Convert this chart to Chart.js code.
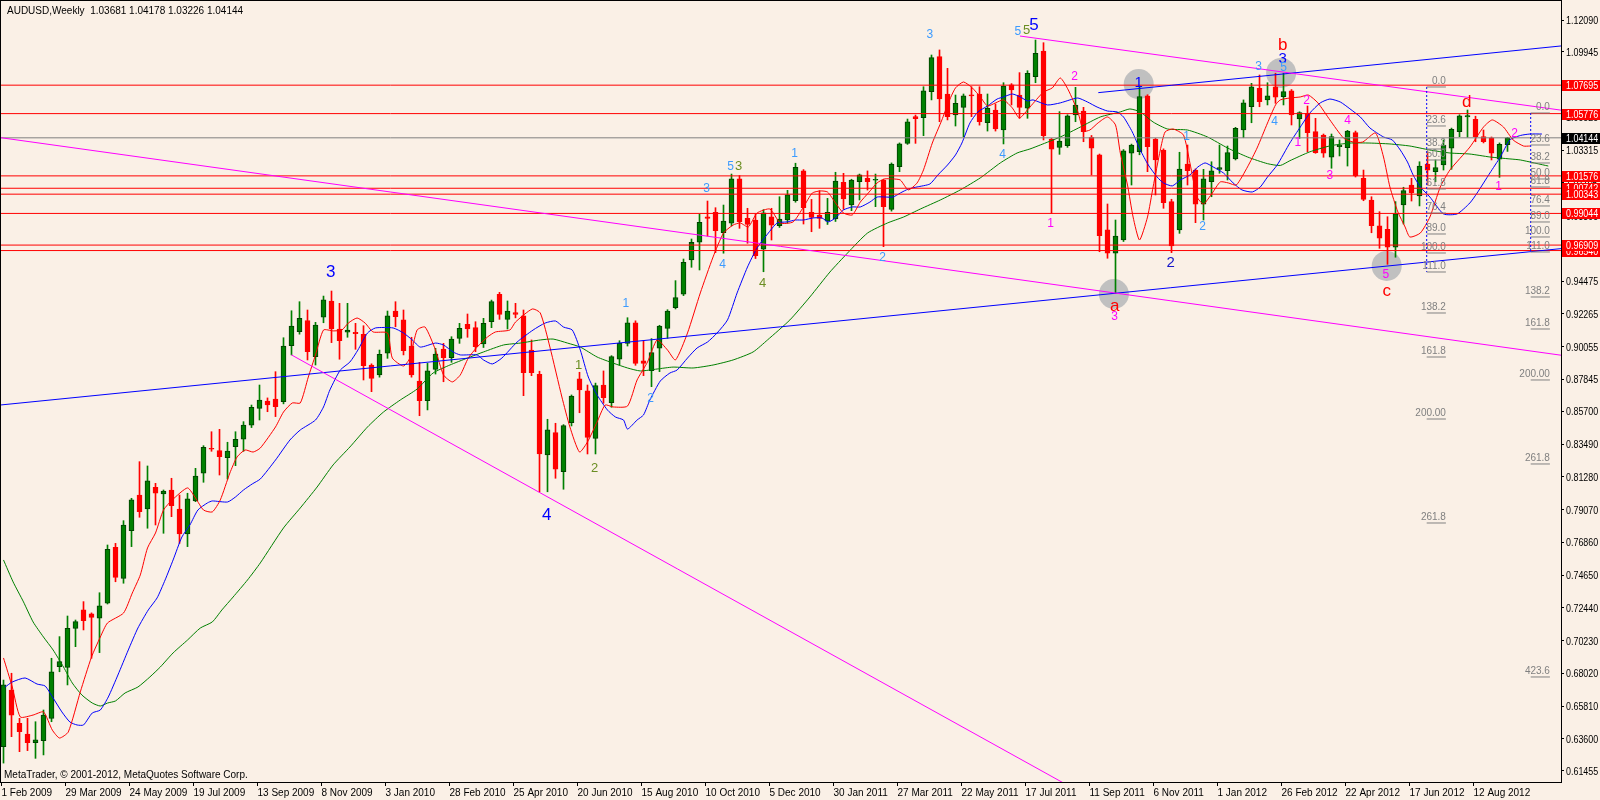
<!DOCTYPE html>
<html>
<head>
<meta charset="utf-8">
<title>AUDUSD,Weekly</title>
<script src="https://cdn.jsdelivr.net/npm/chart.js@4.4.1/dist/chart.umd.min.js"></script>
<style>
  html, body { margin: 0; padding: 0; background: #FAF0E6; }
  canvas { display: block; }
</style>
</head>
<body>
<canvas id="chart" width="1600" height="800"></canvas>
<script>
// AUDUSD weekly, MetaTrader style chart

// Date labels, one every 8 weekly bars starting at bar 0
const dateLabels = ['1 Feb 2009', '29 Mar 2009', '24 May 2009', '19 Jul 2009', '13 Sep 2009', '8 Nov 2009',
  '3 Jan 2010', '28 Feb 2010', '25 Apr 2010', '20 Jun 2010', '15 Aug 2010', '10 Oct 2010', '5 Dec 2010',
  '30 Jan 2011', '27 Mar 2011', '22 May 2011', '17 Jul 2011', '11 Sep 2011', '6 Nov 2011', '1 Jan 2012',
  '26 Feb 2012', '22 Apr 2012', '17 Jun 2012', '12 Aug 2012'];

const priceTicks = [1.12090, 1.09945, 1.07735, 1.05525, 1.03315, 1.01105, 0.98895, 0.96685, 0.94475, 0.92265,
  0.90055, 0.87845, 0.85700, 0.83490, 0.81280, 0.79070, 0.76860, 0.74650, 0.72440, 0.70230, 0.68020,
  0.65810, 0.63600, 0.61455];

// OHLC per weekly bar
const opens = [
  .6307, .6690, .6465, .6393, .6335, .6348, .6499, .6847, .6843, .7106, .7230, .7203, .7174, .7275, .7652, .7443,
  .7765, .8005, .7911, .8057, .8012, .8039, .7911, .7742, .7965, .8152, .8320, .8304, .8257, .8331, .8381, .8477,
  .8590, .8639, .8653, .8635, .9012, .9107, .9181, .8938, .9204, .9314, .9125, .9103, .9103, .9089, .8882, .8815,
  .8961, .9246, .9186, .9010, .8774, .8641, .8853, .8990, .8931, .9062, .9156, .9134, .9024, .9174, .9359, .9190,
  .9235, .9213, .8983, .8819, .8275, .8426, .8163, .8493, .8788, .8707, .8387, .8747, .8628, .8922, .9028, .9167,
  .8911, .8844, .8995, .9129, .9268, .9359, .9590, .9710, .9882, .9912, .9774, .9838, 1.0137, .9871, .9860, .9663,
  .9882, .9822, .9860, .9990, 1.0191, .9912, .9894, .9853, .9867, 1.0114, .9961, 1.0118, 1.0141, 1.0128, 1.0130, .9932,
  1.0220, 1.0377, 1.0557, 1.0550, 1.0726, 1.0962, 1.0710, 1.0568, 1.0620, 1.0700, 1.0710, 1.0516, 1.0602, 1.0467, 1.0771, 1.0703,
  1.0614, 1.0827, 1.1000, 1.0406, 1.0350, 1.0361, 1.0568, 1.0595, 1.0418, 1.0299, .9793, .9636, .9725, 1.0310, 1.0321, 1.0697,
  1.0406, 1.0332, .9984, .9793, 1.0238, 1.0197, .9966, 1.0118, 1.0202, 1.0193, 1.0272, 1.0467, 1.0624, 1.0748, 1.0670, 1.0759,
  1.0692, 1.0732, 1.0541, 1.0580, 1.0456, 1.0433, 1.0283, 1.0355, 1.0348, 1.0449, 1.0141, .9995, .9820, .9797, .9676, .9961,
  1.0096, 1.0022, 1.0238, 1.0186, 1.0231, 1.0344, 1.0456, 1.0555, 1.0539, 1.0422, 1.0415, 1.0270, 1.03681];
const highs = [
  .6757, .6803, .6499, .6499, .6476, .6555, .6904, .7050, .7189, .7162, .7286, .7210, .7346, .7668, .7679, .7832,
  .7983, .8230, .8201, .8084, .8039, .8118, .8005, .8017, .8185, .8338, .8432, .8448, .8361, .8432, .8500, .8612,
  .8747, .8660, .8837, .9066, .9248, .9309, .9253, .9170, .9347, .9381, .9298, .9298, .9163, .9147, .8890, .8983,
  .9246, .9309, .9253, .9069, .8900, .8893, .8995, .9028, .9073, .9163, .9226, .9174, .9197, .9320, .9372, .9314,
  .9298, .9253, .9051, .8840, .8516, .8489, .8480, .8680, .8833, .8747, .8760, .8842, .8945, .9046, .9201, .9180,
  .9046, .9060, .9150, .9255, .9451, .9597, .9732, .9899, .9988, .9943, .9961, 1.0170, 1.0160, .9939, .9900, .9930,
  .9939, 1.0017, 1.0060, 1.0243, 1.0200, .9999, 1.0058, 1.0006, 1.0182, 1.0175, 1.0135, 1.0170, 1.0191, 1.0170, 1.0135, 1.0245,
  1.0380, 1.0541, 1.0568, 1.0759, 1.0973, 1.1007, 1.0883, 1.0703, 1.0710, 1.0759, 1.0759, 1.0710, 1.0643, 1.0786, 1.0780, 1.0854,
  1.0867, 1.1074, 1.1056, 1.0410, 1.0591, 1.0570, 1.0755, 1.0620, 1.0430, 1.0305, .9968, .9860, 1.0335, 1.0372, 1.0764, 1.0705,
  1.0410, 1.0340, 1.0000, 1.0317, 1.0366, 1.0205, 1.0202, 1.0253, 1.0366, 1.0359, 1.0485, 1.0670, 1.0782, 1.0838, 1.0786, 1.0850,
  1.0850, 1.0740, 1.0590, 1.0629, 1.0546, 1.0440, 1.0440, 1.0400, 1.0465, 1.0460, 1.0197, 1.0017, .9916, .9882, .9984, 1.0081,
  1.0141, 1.0253, 1.0321, 1.0265, 1.0400, 1.0480, 1.0570, 1.0602, 1.0560, 1.0467, 1.0420, 1.0380, 1.04178];
const lows = [
  .6197, .6375, .6274, .6281, .6229, .6252, .6476, .6813, .6724, .6982, .7095, .6904, .6942, .7270, .7420, .7410,
  .7657, .7855, .7781, .7803, .7747, .7859, .7679, .7657, .7960, .8091, .8300, .8140, .8113, .8203, .8300, .8460,
  .8511, .8567, .8534, .8620, .8950, .9090, .8916, .8882, .9167, .9033, .8921, .9069, .8988, .8781, .8702, .8800,
  .8927, .9140, .8950, .8800, .8540, .8579, .8821, .8769, .8900, .9028, .9069, .8972, .9000, .9134, .9190, .9125,
  .9200, .8675, .8810, .8027, .8027, .8118, .8044, .8471, .8560, .8282, .8282, .8624, .8597, .8882, .9010, .8880,
  .8810, .8736, .8837, .9062, .9260, .9350, .9541, .9523, .9752, .9640, .9636, .9820, .9804, .9703, .9600, .9511,
  .9725, .9810, .9840, .9980, .9833, .9781, .9804, .9830, .9850, .9932, .9923, .9995, 1.0062, .9950, .9680, .9920,
  1.0186, 1.0370, 1.0377, 1.0429, 1.0670, 1.0523, 1.0535, 1.0494, 1.0422, 1.0557, 1.0500, 1.0460, 1.0460, 1.0373, 1.0636, 1.0546,
  1.0546, 1.0786, 1.0400, .9905, 1.0303, 1.0350, 1.0523, 1.0388, 1.0164, .9646, .9602, .9366, .9715, 1.0096, 1.0300, 1.0186,
  1.0029, .9939, .9640, .9770, 1.0096, .9842, .9860, 1.0017, 1.0175, 1.0130, 1.0265, 1.0415, 1.0516, 1.0624, 1.0636, 1.0647,
  1.0636, 1.0501, 1.0411, 1.0321, 1.0310, 1.0283, 1.0209, 1.0292, 1.0224, 1.0150, .9990, .9774, .9669, .9561, .9609, .9833,
  .9988, .9955, 1.0096, 1.0118, 1.0197, 1.0202, 1.0422, 1.0418, 1.0388, 1.0380, 1.0265, 1.0148, 1.03226];
const closes = [
  .6724, .6521, .6409, .6335, .6353, .6521, .6813, .6881, .7106, .7151, .7157, .7180, .7257, .7639, .7450, .7803,
  .7972, .7893, .8100, .8017, .8032, .7933, .7742, .7979, .8133, .8327, .8314, .8264, .8302, .8381, .8477, .8597,
  .8646, .8612, .8601, .9010, .9145, .9197, .8972, .9152, .9321, .9125, .9046, .9118, .9094, .8877, .8792, .8954,
  .9213, .9208, .8979, .8815, .8641, .8842, .8956, .8931, .9057, .9129, .9125, .9005, .9163, .9309, .9224, .9246,
  .9224, .8830, .8830, .8282, .8444, .8179, .8473, .8673, .8714, .8394, .8743, .8662, .8938, .9028, .9167, .8893,
  .8893, .8965, .9145, .9246, .9336, .9575, .9710, .9845, .9871, .9788, .9853, 1.0137, .9849, .9831, .9619, .9909,
  .9826, .9867, 1.0029, 1.0216, .9943, .9878, .9871, .9912, 1.0123, 1.0002, 1.0130, 1.0164, 1.0118, 1.0132, .9950, 1.0238,
  1.0373, 1.0523, 1.0543, 1.0732, 1.0955, 1.0676, 1.0557, 1.0647, 1.0697, 1.0697, 1.0523, 1.0614, 1.0474, 1.0764, 1.0737, 1.0620,
  1.0850, 1.0985, 1.0429, 1.0337, 1.0393, 1.0562, 1.0636, 1.0456, 1.0344, .9754, .9636, .9752, 1.0326, 1.0366, 1.0692, 1.0355,
  1.0265, .9977, .9685, 1.0204, 1.0193, .9966, 1.0137, 1.0191, 1.0213, 1.0314, 1.0479, 1.0651, 1.0759, 1.0658, 1.0697, 1.0688,
  1.0726, 1.0568, 1.0584, 1.0449, 1.0314, 1.0310, 1.0422, 1.0364, 1.0460, 1.0157, .9999, .9822, .9737, .9676, .9901, 1.0058,
  1.0044, 1.0224, 1.0197, 1.0213, 1.0366, 1.0472, 1.0562, 1.0564, 1.0422, 1.0388, 1.0310, 1.0371, 1.04144];

// Moving averages as [bar, price] points
const redMa = [[0, .6906], [1.1, .6710], [2.1, .6508], [3.7, .6521], [5, .6542], [6.1, .6420], [7, .6366], [8.1, .6407],
  [9.6, .6677], [11, .6912], [12.1, .7047], [13, .7142], [15, .7209], [16.1, .7344], [17.1, .7466], [18, .7648],
  [19, .7749], [20, .7904], [21.1, .7972], [23, .8053], [24, .7985], [25, .7904], [26.1, .7891], [27.1, .7972],
  [28.3, .8154], [29.2, .8262], [30.2, .8309], [31.2, .8295], [32.1, .8322], [34, .8464], [35, .8565], [36.1, .8626],
  [37.1, .8626], [38.1, .8801], [39, .8950], [40, .9118], [41.2, .9112], [42.3, .9118], [43.1, .9165], [44.2, .9199],
  [45.2, .9165], [46.2, .9105], [48, .9098], [48.6, .8929], [50, .8875], [50.8, .8929], [51.7, .9118], [52.7, .9138],
  [54, .8983], [55, .8815], [56.1, .8768], [57.1, .8815], [58.1, .8929], [59.2, .9003], [60.5, .9071], [61.5, .9105],
  [63.3, .9118], [64, .9172], [66.1, .9260], [67.1, .9233], [68.3, .9003], [69.8, .8666], [70.8, .8464], [72, .8295],
  [73, .8363], [74.2, .8498], [75.2, .8612], [76.2, .8599], [78, .8605], [79.2, .8781], [80.5, .8902], [81.7, .9051],
  [83, .8983], [84, .8916], [85.5, .9098], [87.1, .9368], [88.7, .9611], [90, .9772], [91.2, .9826], [92.1, .9840],
  [93.1, .9813], [94.2, .9907], [95.8, .9934], [97.1, .9840], [98.7, .9847], [100, .9948], [101.1, 1.0042], [102.1, 1.0056],
  [103, 1.0049], [104, .9975], [105, .9907], [106.1, .9894], [107.1, .9981], [108.1, 1.0042], [109.2, 1.0110], [110.1, 1.0137],
  [111.2, 1.0137], [112.1, 1.0130], [113.1, 1.0063], [114.2, 1.0110], [115, 1.0198], [116.1, 1.0379], [117.3, 1.0535],
  [118.1, 1.0650], [119, 1.0751], [120, 1.0791], [121.1, 1.0751], [122.1, 1.0690], [123, 1.0629], [124, 1.0650],
  [125, 1.0670], [126.1, 1.0616], [127, 1.0548], [128.3, 1.0622], [130, 1.0723], [131.1, 1.0751], [132.1, 1.0818],
  [133.1, 1.0737], [134.3, 1.0589], [135, 1.0460], [135.8, 1.0467], [136.8, 1.0514], [138, 1.0555], [139, 1.0501],
  [139.6, 1.0312], [140.5, 1.0096], [141.2, .9880], [142, .9725], [143, .9880], [143.7, 1.0083], [144.6, 1.0332],
  [145.2, 1.0454], [146.2, 1.0474], [147.5, 1.0433], [148.3, 1.0245], [149.2, 1.0015], [150, .9968], [151.1, 1.0042],
  [152.1, 1.0117], [153.1, 1.0110], [154.1, 1.0096], [155.5, 1.0218], [156.7, 1.0346], [158, 1.0514], [159, 1.0636],
  [159.6, 1.0670], [160.8, 1.0683], [162.1, 1.0690], [163.1, 1.0703], [164.3, 1.0650], [165.8, 1.0535], [167.5, 1.0413],
  [168.7, 1.0386], [169.9, 1.0386], [171.5, 1.0447], [172.5, 1.0285], [173.3, 1.0083], [174.3, .9914], [175.2, .9813],
  [175.8, .9745], [177.1, .9772], [178.3, .9880], [179.6, 1.0083], [180.8, 1.0197], [183.3, 1.0352], [185, 1.0487],
  [186.1, 1.0535], [187.5, 1.0487], [188.7, 1.0400], [190, 1.0359], [190.8, 1.0359]];
const blueMa = [[0.2, .6710], [1.1, .6744], [2.7, .6771], [4.2, .6730], [5.2, .6717], [6.2, .6636], [7.3, .6542],
  [8.3, .6474], [9.2, .6454], [10, .6454], [11.1, .6535], [12.1, .6555], [13.1, .6643], [14.3, .6791], [15.6, .6960],
  [16.8, .7108], [18.1, .7230], [19.2, .7311], [20.2, .7432], [21.2, .7567], [22.3, .7722], [23.3, .7803], [24.3, .7904],
  [25.5, .7952], [26.1, .7965], [28, .7958], [29, .7992], [30, .8039], [31.1, .8080], [32.1, .8113], [34, .8241],
  [35.8, .8376], [37.1, .8444], [39, .8511], [40, .8599], [40.8, .8714], [42.1, .8848], [43.3, .8902], [44.3, .8983],
  [45.5, .9098], [46.5, .9132], [48.7, .9132], [50, .9098], [51.1, .9051], [52.1, .9003], [54, .9030], [55, .9017],
  [56.2, .8970], [57.1, .8950], [59.2, .8950], [60, .8916], [61.1, .8889], [62.3, .8929], [64.2, .9037], [66.2, .9118],
  [67.7, .9165], [69, .9179], [70, .9138], [71.1, .9118], [72.1, .8983], [73.1, .8801], [74.2, .8680], [75.5, .8578],
  [76.5, .8531], [77.5, .8511], [78, .8450], [79.2, .8511], [80, .8545], [80.8, .8646], [82.1, .8774], [83.3, .8828],
  [84.2, .8848], [85.5, .8929], [86.7, .8997], [88, .9037], [89.2, .9098], [90.5, .9186], [91.7, .9368], [93, .9543],
  [94.2, .9672], [95.5, .9765], [96.7, .9840], [97.9, .9847], [99, .9860], [100, .9860], [101.2, .9874], [102.3, .9874],
  [103.1, .9847], [104, .9874], [105, .9928], [106.1, .9948], [107.1, .9948], [108.3, .9981], [109.2, 1.0015],
  [110.2, 1.0015], [111.2, 1.0015], [112.1, 1.0042], [113.1, 1.0069], [114.2, 1.0083], [115.8, 1.0103], [116.8, 1.0164],
  [118, 1.0231], [119, 1.0299], [119.8, 1.0379], [120.8, 1.0514], [121.8, 1.0589], [123, 1.0629], [124.2, 1.0676],
  [125, 1.0690], [126.1, 1.0710], [127.1, 1.0690], [128, 1.0663], [128.7, 1.0670], [130.5, 1.0636], [132.1, 1.0650],
  [133.3, 1.0670], [134.3, 1.0683], [135.5, 1.0656], [136.7, 1.0622], [138, 1.0595], [139.2, 1.0589], [140, 1.0555],
  [141.1, 1.0454], [142.1, 1.0332], [143.1, 1.0231], [144.2, 1.0150], [145, 1.0110], [146.1, 1.0090], [147.1, 1.0130],
  [148.3, 1.0164], [149.3, 1.0218], [150.2, 1.0245], [151.2, 1.0218], [152.5, 1.0177], [153.7, 1.0110], [154.8, 1.0063],
  [156.1, 1.0049], [157.1, 1.0083], [158, 1.0150], [159.2, 1.0230], [160.8, 1.0380], [162.1, 1.0487], [163.3, 1.0582],
  [164.6, 1.0650], [165.8, 1.0676], [167.1, 1.0656], [168.3, 1.0610], [169.6, 1.0555], [170.8, 1.0481], [172.5, 1.0420],
  [173.6, 1.0400], [174.6, 1.0332], [175.5, 1.0251], [176.2, 1.0164], [177.1, 1.0083], [178.3, 1.0015], [180, .9901],
  [181.7, .9901], [183.3, .9975], [184.2, 1.0042], [185.8, 1.0177], [187.1, 1.0285], [188.3, 1.0400], [189.6, 1.0430],
  [190.8, 1.0440], [192.3, 1.0440]];
const greenMa = [[0, .7567], [1.2, .7419], [2.5, .7284], [3.7, .7149], [5, .7047], [6.2, .6960], [7.5, .6845],
  [8.6, .6737], [9.8, .6656], [11.1, .6602], [12.1, .6582], [13, .6602], [14, .6616], [15.2, .6670], [16.8, .6710],
  [18.3, .6778], [19.6, .6845], [21.2, .6940], [23, .7027], [24.6, .7108], [26.1, .7149], [27.3, .7230], [28.7, .7317],
  [30.5, .7432], [32.1, .7547], [35, .7783], [37.1, .7918], [39.2, .8059], [41.2, .8208], [43.3, .8329], [45.5, .8464],
  [47.5, .8565], [49.6, .8646], [51.7, .8720], [53.7, .8828], [55.8, .8882], [58, .8929], [60, .8970], [62.5, .9017],
  [64.6, .9030], [67.1, .9051], [68.7, .9057], [70.5, .9030], [72.1, .9003], [74.2, .8936], [76.2, .8895], [78, .8862],
  [79.6, .8842], [81.7, .8855], [83.7, .8868], [86.2, .8862], [88.7, .8882], [91.2, .8916], [93.7, .8970], [95.5, .9051],
  [98.3, .9186], [100.8, .9341], [103.3, .9509], [105.5, .9637], [108, .9772], [110.5, .9840], [112.5, .9880],
  [114.6, .9934], [117.1, .9995], [119.6, 1.0063], [122.1, 1.0144], [124.6, 1.0245], [126.7, 1.0312], [128.3, 1.0339],
  [129.6, 1.0366], [132.1, 1.0420], [134.6, 1.0487], [137.1, 1.0555], [139.6, 1.0589], [140.8, 1.0609], [142.1, 1.0589],
  [143.7, 1.0521], [145.5, 1.0474], [148, 1.0467], [150.5, 1.0420], [153, 1.0346], [155.5, 1.0285], [158, 1.0240],
  [159.6, 1.0228], [160.8, 1.0260], [163.3, 1.0320], [165.8, 1.0360], [168.3, 1.0379], [170.8, 1.0379], [173.3, 1.0373],
  [175.8, 1.0359], [178.3, 1.0332], [180.8, 1.0312], [183.3, 1.0305], [185.8, 1.0285], [188.3, 1.0272], [189.6, 1.0265],
  [193.1, 1.0224]];

// Horizontal price lines and their axis boxes (drawn in this order)
const redLevels = [1.07695, 1.05776, 1.01576, 1.00742, 1.00343, 0.99044, 0.96540, 0.96909];
const lastPrice = 1.04144;

// Trend lines as [bar, price] end points
const magentaLong = [[-0.44, 1.0416], [194.7, 0.8948]];
const magentaSteep = [[36.0, 0.8950], [135, 0.5988]];
const magentaTop = [[127.06, 1.1101], [194.7, 1.0601]];
const blueLong = [[-0.44, 0.8612], [194.7, 0.9667]];
const blueUpper = [[136.85, 1.0719], [194.7, 1.1034]];

// Grey marker circles [bar, price]
const circles = [[141.9, 1.0777], [159.7, 1.0852], [138.8, 0.9361], [172.9, 0.9550]];

// Fibonacci captions, two sets
const fibLevels = ['0.0', '23.6', '38.2', '50.0', '61.8', '76.4', '89.0', '100.0', '111.0', '138.2', '161.8', '200.00', '261.8', '423.6'];
const fibAPrices = [1.07572, 1.04942, 1.03390, 1.02648, 1.00692, 0.99073, 0.97657, 0.96375, 0.95094, 0.92328, 0.89360, 0.85178, 0.78164];
const fibBPrices = [1.05818, 1.03660, 1.02446, 1.01367, 1.00827, 0.99546, 0.98467, 0.97455, 0.96443, 0.93408, 0.91249, 0.87810, 0.82144, 0.67778];
const fibASpan = [177.9, 180.3];
const fibBSpan = [190.9, 193.3];

// Wave labels: [text, bar, price, colour, font px]
const BL = '#0000FF', LB = '#3C9BFF', OL = '#6B8E23', MG = '#FF00FF', RD = '#FF0000', DB = '#1414C8';
const waveLabels = [
  ['3', 40.9, 0.9509, BL, 17], ['4', 67.9, 0.7870, BL, 17],
  ['5', 126.8, 1.1128, LB, 12], ['5', 127.9, 1.1142, OL, 13], ['5', 128.8, 1.1175, BL, 17],
  ['3', 115.8, 1.1108, LB, 12], ['2', 133.9, 1.0825, MG, 12], ['1', 130.9, 0.9833, MG, 12],
  ['4', 124.9, 1.0299, LB, 12], ['1', 141.9, 1.0784, BL, 15],
  ['b', 159.9, 1.1040, RD, 17], ['3', 159.9, 1.0946, BL, 15], ['5', 160.0, 1.0889, LB, 12],
  ['3', 156.9, 1.0892, LB, 12], ['4', 158.9, 1.0521, LB, 12],
  ['2', 162.9, 1.0663, MG, 12], ['1', 161.8, 1.0380, MG, 12], ['3', 165.8, 1.0157, MG, 12], ['4', 168.0, 1.0528, MG, 12],
  ['1', 147.9, 1.0422, LB, 12], ['2', 149.9, 0.9815, LB, 12], ['2', 145.9, 0.9568, DB, 15],
  ['a', 138.9, 0.9280, RD, 17], ['3', 138.9, 0.9210, MG, 12],
  ['c', 172.9, 0.9377, RD, 17], ['5', 172.8, 0.9489, MG, 12],
  ['d', 182.9, 1.0656, RD, 17], ['2', 188.9, 1.0445, MG, 12], ['1', 186.9, 1.0085, MG, 12],
  ['5', 90.9, 1.0220, LB, 12], ['3', 91.9, 1.0220, OL, 13], ['3', 87.9, 1.0074, LB, 12], ['1', 98.9, 1.0310, LB, 12],
  ['4', 89.9, 0.9557, LB, 12], ['4', 94.9, 0.9435, OL, 13], ['2', 109.9, 0.9606, LB, 12],
  ['1', 77.8, 0.9293, LB, 12], ['1', 71.9, 0.8882, OL, 13], ['2', 73.9, 0.8185, OL, 13], ['2', 80.9, 0.8657, LB, 12]
];

const BG = '#FAF0E6';
const UP = '#008000';
const UP_EDGE = '#004000';
const DOWN = '#FF0000';
const FONT = '"Liberation Sans", Arial, sans-serif';

// Build datasets
const isUp = opens.map((o, i) => closes[i] >= o);
const wickData = opens.map((o, i) => ({ x: i, y: [lows[i], highs[i]] }));
const bodyData = opens.map((o, i) => ({ x: i, y: [o, closes[i]] }));
const pts = arr => arr.map(([x, y]) => ({ x, y }));

function lineSet(points, color, order, extra) {
    return Object.assign({
        type: 'line',
        data: pts(points),
        borderColor: color,
        borderWidth: 1,
        pointRadius: 0,
        fill: false,
        tension: 0,
        order: order
    }, extra || {});
}

const datasets = [];

datasets.push({
    type: 'line', data: pts(circles), showLine: false, pointRadius: 15,
    pointBackgroundColor: '#C0C0C0', pointBorderWidth: 0, order: 30
});
datasets.push({
    type: 'bar', data: wickData, barThickness: 1, grouped: false, borderWidth: 0,
    backgroundColor: isUp.map(u => u ? UP : DOWN), order: 20
});
datasets.push({
    type: 'bar', data: bodyData, barThickness: 5, grouped: false, minBarLength: 1,
    borderWidth: 1, borderSkipped: false,
    backgroundColor: isUp.map(u => u ? UP : DOWN),
    borderColor: isUp.map(u => u ? UP_EDGE : DOWN), order: 19
});

datasets.push(lineSet(greenMa, '#008000', 12, { tension: 0.2 }));
datasets.push(lineSet(blueMa, '#0000FF', 11, { tension: 0.2 }));
datasets.push(lineSet(redMa, '#FF0000', 10, { tension: 0.2 }));

redLevels.forEach(p => datasets.push(lineSet([[-1, p], [196, p]], '#FF0000', 8)));
datasets.push(lineSet([[-1, lastPrice], [196, lastPrice]], '#808080', 9));

datasets.push(lineSet(magentaLong, '#FF00FF', 7));
datasets.push(lineSet(magentaSteep, '#FF00FF', 7));
datasets.push(lineSet(magentaTop, '#FF00FF', 7));
datasets.push(lineSet(blueLong, '#0000FF', 7));
datasets.push(lineSet(blueUpper, '#0000FF', 7));

// Fibonacci: dotted verticals and short level lines
datasets.push(lineSet([[fibASpan[0], fibAPrices[0]], [fibASpan[0], fibAPrices[8]]], '#0000FF', 6, { borderDash: [2, 2] }));
datasets.push(lineSet([[fibBSpan[0], fibBPrices[0]], [fibBSpan[0], fibBPrices[8]]], '#0000FF', 6, { borderDash: [2, 2] }));
fibAPrices.forEach(p => datasets.push(lineSet([[fibASpan[0], p], [fibASpan[1], p]], '#808080', 5)));
fibBPrices.forEach(p => datasets.push(lineSet([[fibBSpan[0], p], [fibBSpan[1], p]], '#808080', 5)));

// Narrow price text, like the Tahoma labels of the terminal
function priceText(ctx, text, x, y, color) {
    ctx.save();
    ctx.translate(x, y);
    ctx.scale(0.81, 1);
    ctx.fillStyle = color;
    ctx.fillText(text, 0, 0);
    ctx.restore();
}

// Texts, price boxes and frame
const mt4Overlay = {
    id: 'mt4Overlay',
    beforeDraw(chart) {
        const ctx = chart.ctx;
        ctx.save();
        ctx.fillStyle = BG;
        ctx.fillRect(0, 0, chart.width, chart.height);
        ctx.restore();
    },
    afterDatasetsDraw(chart) {
        const { ctx, scales: { x, y } } = chart;
        ctx.save();
        ctx.font = '10px ' + FONT;
        ctx.fillStyle = '#808080';
        ctx.textAlign = 'right';
        ctx.textBaseline = 'bottom';
        fibAPrices.forEach((p, k) => ctx.fillText(fibLevels[k], x.getPixelForValue(fibASpan[1]), y.getPixelForValue(p) - 1));
        fibBPrices.forEach((p, k) => ctx.fillText(fibLevels[k], x.getPixelForValue(fibBSpan[1]), y.getPixelForValue(p) - 1));

        ctx.textAlign = 'center';
        ctx.textBaseline = 'middle';
        waveLabels.forEach(([t, i, p, c, s]) => {
            ctx.font = s + 'px ' + FONT;
            ctx.fillStyle = c;
            ctx.fillText(t, x.getPixelForValue(i), y.getPixelForValue(p));
        });
        ctx.restore();
    },
    afterDraw(chart) {
        const { ctx, chartArea: a, scales: { y } } = chart;
        ctx.save();
        ctx.strokeStyle = '#000000';
        ctx.lineWidth = 1;
        ctx.strokeRect(a.left - 0.5, a.top - 0.5, a.right - a.left + 1, a.bottom - a.top + 1);

        ctx.font = '11px ' + FONT;
        ctx.textAlign = 'left';
        ctx.textBaseline = 'middle';
        // price scale labels
        priceTicks.forEach(p => priceText(ctx, p.toFixed(5), a.right + 5, Math.round(y.getPixelForValue(p)) + 0.5, '#000000'));

        const box = (p, bg) => {
            const py = Math.round(y.getPixelForValue(p));
            ctx.fillStyle = bg;
            ctx.fillRect(a.right + 1, py - 5, chart.width - a.right - 1, 11);
            priceText(ctx, p.toFixed(5), a.right + 5, py + 0.5, '#FFFFFF');
        };
        redLevels.forEach(p => box(p, '#FF0000'));
        box(lastPrice, '#000000');

        ctx.fillStyle = '#000000';
        ctx.font = '10px ' + FONT;
        ctx.fillText('AUDUSD,Weekly  1.03681 1.04178 1.03226 1.04144', 7, 11);
        ctx.fillText('MetaTrader, \u00A9 2001-2012, MetaQuotes Software Corp.', 4, 775);
        ctx.restore();
    }
};

new Chart(document.getElementById('chart'), {
    type: 'bar',
    data: { datasets: datasets },
    options: {
        responsive: false,
        animation: false,
        events: [],
        layout: { autoPadding: false, padding: { left: 1, top: 1, right: 0, bottom: 0 } },
        plugins: { legend: { display: false }, tooltip: { enabled: false } },
        scales: {
            x: {
                type: 'linear',
                min: -0.3125,
                max: 194.6875,
                offset: false,
                border: { display: false },
                grid: { drawOnChartArea: false, drawTicks: true, tickLength: 4, color: '#000000', offset: false },
                afterBuildTicks: s => { s.ticks = dateLabels.map((d, k) => ({ value: k * 8 - 0.25 })); },
                afterFit: s => { s.height = 18; },
                ticks: {
                    autoSkip: false, maxRotation: 0, minRotation: 0, align: 'start', padding: 1,
                    color: '#000000', font: { family: FONT, size: 10 },
                    callback: (v, k) => dateLabels[k]
                }
            },
            y: {
                type: 'linear',
                position: 'right',
                min: 0.60694,
                max: 1.13372,
                border: { display: false },
                grid: { drawOnChartArea: false, drawTicks: true, tickLength: 3, color: '#000000' },
                afterBuildTicks: s => { s.ticks = priceTicks.map(v => ({ value: v })); },
                afterFit: s => { s.width = 39; },
                ticks: { display: false, autoSkip: false }
            }
        }
    },
    plugins: [mt4Overlay]
});
</script>
</body>
</html>
